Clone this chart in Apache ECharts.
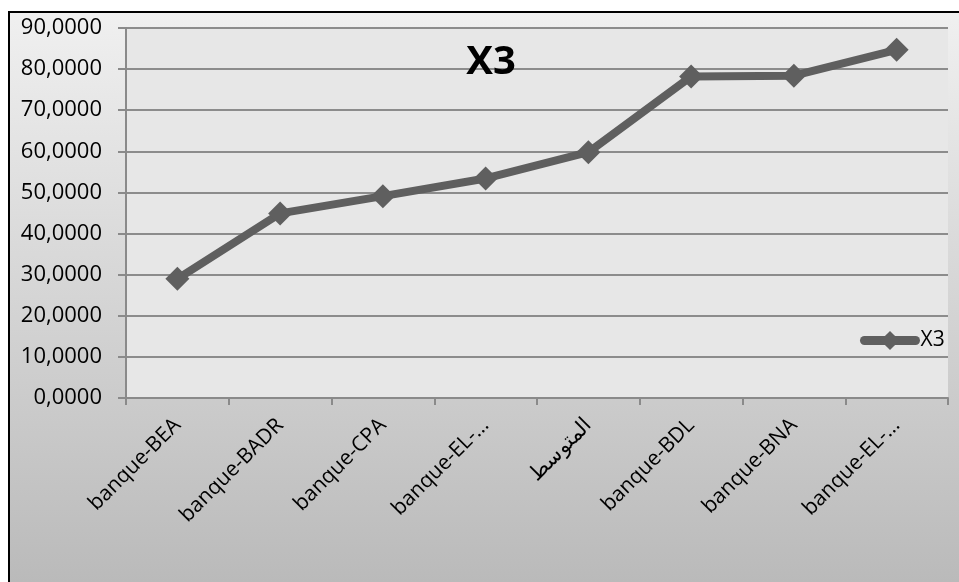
<!DOCTYPE html>
<html>
<head>
<meta charset="utf-8">
<script src="https://cdn.jsdelivr.net/npm/echarts@6/dist/echarts.min.js"></script>
<style>
html,body{margin:0;padding:0;background:#ffffff;}
#chart{width:959px;height:582px;}
</style>
</head>
<body>
<div id="chart"></div>
<script>
const categories = ['banque-BEA', 'banque-BADR', 'banque-CPA', 'banque-EL-…', 'المتوسط', 'banque-BDL', 'banque-BNA', 'banque-EL-…'];
const x3Values = [29.0, 44.9, 49.1, 53.4, 59.8, 78.2, 78.4, 84.7];
const yTicks = [0, 10, 20, 30, 40, 50, 60, 70, 80, 90];

const chart = echarts.init(document.getElementById('chart'));
const fontFam = '"Open Sans", "Liberation Sans", Arial, sans-serif';
chart.setOption({
  animation: false,
  backgroundColor: '#ffffff',
  graphic: [{
    type: 'rect',
    z: -10,
    silent: true,
    shape: { x: 9, y: 12, width: 960, height: 580 },
    style: {
      fill: new echarts.graphic.LinearGradient(0, 0, 0, 1, [
        { offset: 0, color: '#f0f0f0' },
        { offset: 1, color: '#b9b9b9' }
      ]),
      stroke: '#000000',
      lineWidth: 2
    }
  }],
  title: {
    text: 'X3',
    left: 486,
    top: 38,
    textAlign: 'center',
    textStyle: { fontFamily: fontFam, fontWeight: 'bold', fontSize: 40, color: '#000000' }
  },
  legend: {
    orient: 'horizontal',
    left: 855,
    top: 325,
    padding: 5,
    itemWidth: 51,
    itemHeight: 24,
    itemGap: 0,
    textStyle: { fontFamily: fontFam, fontSize: 21, color: '#000000', padding: [0, 0, 0, 0] },
    lineStyle: { width: 9, color: '#5f5f5f', cap: 'round' },
    itemStyle: { color: '#5f5f5f' },
    data: ['X3']
  },
  grid: {
    left: 126, right: 11, top: 28, bottom: 184,
    show: true,
    backgroundColor: '#e7e7e7',
    borderWidth: 0,
    containLabel: false
  },
  xAxis: {
    type: 'category',
    data: categories,
    boundaryGap: true,
    axisLine: { lineStyle: { color: '#8a8a8a', width: 2 } },
    axisTick: { show: true, length: 7, lineStyle: { color: '#8a8a8a', width: 2 } },
    axisLabel: {
      interval: 0,
      rotate: 45,
      margin: 24,
      fontFamily: fontFam,
      fontSize: 21,
      color: '#000000'
    }
  },
  yAxis: {
    type: 'value',
    min: yTicks[0],
    max: yTicks[yTicks.length - 1],
    interval: 10,
    axisLine: { show: true, lineStyle: { color: '#8a8a8a', width: 2 } },
    axisTick: { show: true, length: 8, lineStyle: { color: '#8a8a8a', width: 2 } },
    splitLine: { show: true, lineStyle: { color: '#8c8c8c', width: 2 } },
    axisLabel: {
      margin: 24,
      fontFamily: fontFam,
      fontSize: 22,
      color: '#000000',
      formatter: v => v.toFixed(4).replace('.', ',')
    }
  },
  series: [{
    name: 'X3',
    type: 'line',
    data: x3Values,
    symbol: 'diamond',
    symbolSize: 24,
    lineStyle: { color: '#5f5f5f', width: 8 },
    itemStyle: { color: '#5f5f5f' },
    z: 5
  }]
});
</script>
</body>
</html>
